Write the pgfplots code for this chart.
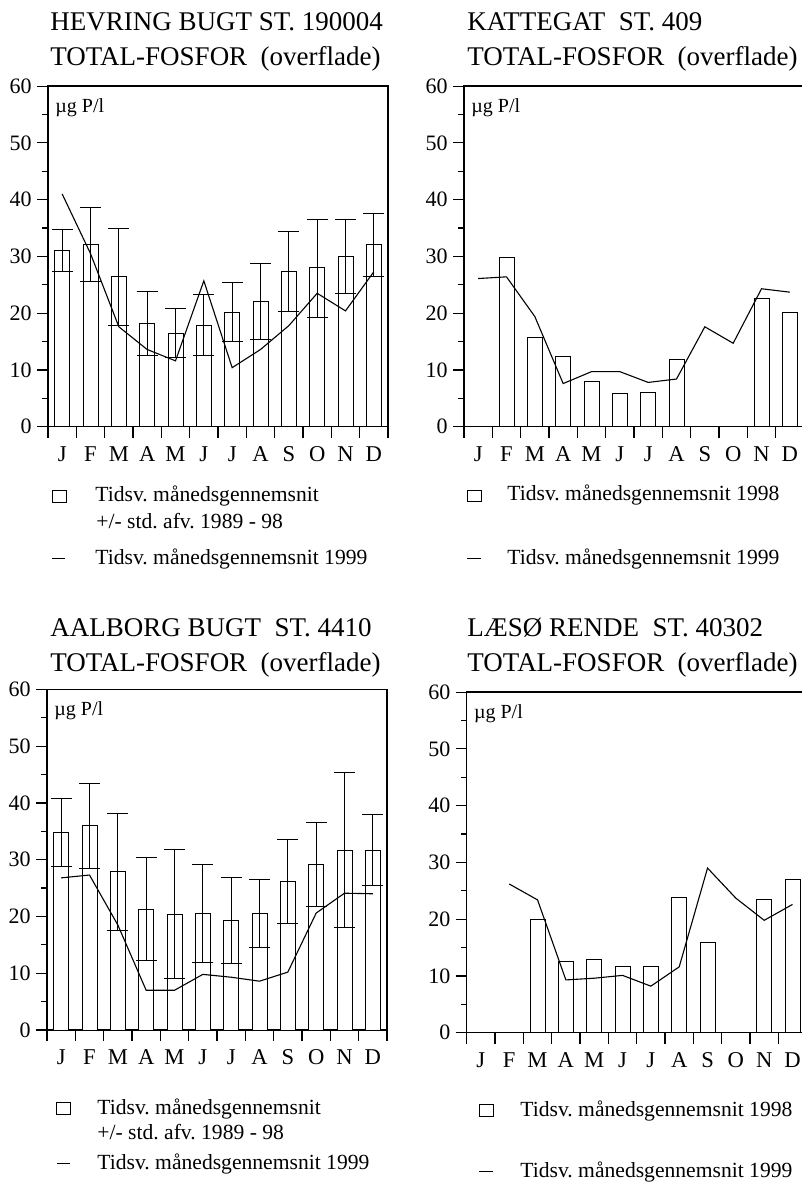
\documentclass[border=0pt]{standalone}
\usepackage{fontspec}
\setmainfont{Liberation Serif}
\usepackage{pgfplots}
\pgfplotsset{compat=1.18}
\usepackage{pgfplotstable}
\frenchspacing

\pgfplotstableread{
x y ep em
0.5 31.1 3.7 3.8
1.5 32.1 6.5 6.5
2.5 26.4 8.5 8.6
3.5 18.2 5.6 5.6
4.5 16.4 4.4 4.2
5.5 17.9 5.4 5.4
6.5 20.2 5.2 5.2
7.5 22.1 6.7 6.7
8.5 27.3 7.0 7.0
9.5 28.0 8.5 8.7
10.5 29.9 6.6 6.5
11.5 32.1 5.5 5.6
}\barsA
\pgfplotstableread{
x y
0.5 41.0
1.5 30.5
2.5 17.6
3.5 13.6
4.5 11.6
5.5 25.7
6.5 10.4
7.5 13.6
8.5 17.8
9.5 23.5
10.5 20.4
11.5 27.3
}\lineA
\pgfplotstableread{
x y
1.5 29.8
2.5 15.7
3.5 12.4
4.5 8.0
5.5 5.9
6.5 6.0
7.5 11.9
10.5 22.5
11.5 20.2
}\barsB
\pgfplotstableread{
x y
0.5 26.1
1.5 26.4
2.5 19.4
3.5 7.6
4.5 9.7
5.5 9.7
6.5 7.8
7.5 8.4
8.5 17.6
9.5 14.7
10.5 24.3
11.5 23.7
}\lineB
\pgfplotstableread{
x y ep em
0.5 34.8 5.9 6.0
1.5 36.0 7.4 7.5
2.5 27.9 10.2 10.3
3.5 21.3 9.1 9.1
4.5 20.4 11.4 11.4
5.5 20.6 8.6 8.7
6.5 19.3 7.5 7.6
7.5 20.5 6.0 6.0
8.5 26.1 7.4 7.4
9.5 29.1 7.4 7.3
10.5 31.7 13.7 13.7
11.5 31.7 6.2 6.2
}\barsC
\pgfplotstableread{
x y
0.5 26.8
1.5 27.3
2.5 18.5
3.5 7.0
4.5 7.0
5.5 9.8
6.5 9.3
7.5 8.6
8.5 10.2
9.5 20.6
10.5 24.1
11.5 24.0
}\lineC
\pgfplotstableread{
x y
2.5 19.9
3.5 12.6
4.5 12.9
5.5 11.7
6.5 11.6
7.5 23.9
8.5 15.9
10.5 23.4
11.5 27.0
}\barsD
\pgfplotstableread{
x y
1.5 26.2
2.5 23.4
3.5 9.3
4.5 9.6
5.5 10.1
6.5 8.2
7.5 11.6
8.5 29.0
9.5 23.7
10.5 19.8
11.5 22.6
}\lineD

\pgfplotsset{
  panel/.style={
    scale only axis, width=170pt, height=170.3pt,
    anchor=south west,
    xmin=0, xmax=12, ymin=0, ymax=60,
    axis line style={line width=0.7pt, black},
    xtick={0,1,...,12}, xticklabels={},
    extra x ticks={0.5,1.5,...,11.5},
    extra x tick labels={J,F,M,A,M,J,J,A,S,O,N,D},
    extra x tick style={major tick length=0pt,
      xticklabel style={font=\fontsize{11.3}{13}\selectfont, inner sep=0pt,
        text height=7.5pt, text depth=0pt, anchor=north, yshift=-9.5pt}},
    ytick={0,10,...,60}, minor y tick num=1,
    tick align=outside, tick pos=left,
    major tick length=5.5pt, minor tick length=2.8pt,
    tick style={line width=0.6pt, black},
    yticklabel style={font=\fontsize{11}{13}\selectfont, inner sep=0pt, xshift=-2.5pt},
    /pgf/number format/assume math mode=true,
    clip=false,
  },
  barst/.style={ybar, bar width=7.5pt, fill=white, draw=black, line width=0.5pt},
  errst/.style={ybar, bar width=7.5pt, fill=white, draw=black, line width=0.5pt,
    error bars/.cd, y dir=both, y explicit,
    error bar style={line width=0.5pt, black},
    error mark options={rotate=90, mark size=5.25pt, line width=0.5pt, black}},
  linest/.style={black, line width=0.55pt, sharp plot, no marks},
}
\newcommand{\unitlabel}{\node[anchor=base west, inner sep=0pt, font=\fontsize{10}{12}\selectfont, xshift=3.5pt, yshift=-13pt] at (rel axis cs:0,1) {µg P/l};}

\begin{document}
\begin{tikzpicture}[x=0.5pt, y=-0.5pt]
\useasboundingbox (0,0) rectangle (802,1182);

% Panel 1
\begin{axis}[panel, at={(24pt,-213.35pt)}]
\addplot[errst] table[x=x, y=y, y error plus=ep, y error minus=em] {\barsA};
\addplot[linest] table[x=x, y=y] {\lineA};
\unitlabel
\end{axis}

% Panel 2
\begin{axis}[panel, at={(232pt,-213.35pt)}]
\addplot[barst] table[x=x, y=y] {\barsB};
\addplot[linest] table[x=x, y=y] {\lineB};
\unitlabel
\end{axis}

% Panel 3
\begin{axis}[panel, at={(23.5pt,-515pt)}]
\addplot[errst] table[x=x, y=y, y error plus=ep, y error minus=em] {\barsC};
\addplot[linest] table[x=x, y=y] {\lineC};
\unitlabel
\end{axis}

% Panel 4
\begin{axis}[panel, at={(233.35pt,-516.35pt)}]
\addplot[barst] table[x=x, y=y] {\barsD};
\addplot[linest] table[x=x, y=y] {\lineD};
\unitlabel
\end{axis}

% Titles
\begin{scope}[every node/.style={anchor=base west, inner sep=0pt, font=\fontsize{13.5}{15}\selectfont}]
\node at (50,31) {HEVRING BUGT ST. 190004};
\node at (50,66) {TOTAL-FOSFOR\ \ (overflade)};
\node at (467,31) {KATTEGAT\ \ ST. 409};
\node at (467,66) {TOTAL-FOSFOR\ \ (overflade)};
\node at (50,636) {AALBORG BUGT\ \ ST. 4410};
\node at (50,671) {TOTAL-FOSFOR\ \ (overflade)};
\node at (467,636) {LÆSØ RENDE\ \ ST. 40302};
\node at (467,671) {TOTAL-FOSFOR\ \ (overflade)};
\end{scope}

% Legends
\begin{scope}[every node/.style={anchor=base west, inner sep=0pt, font=\fontsize{10.8}{13}\selectfont}]
\draw[line width=0.5pt] (52,490) rectangle (66,502);
\node at (95,501) {Tidsv. månedsgennemsnit};
\node at (96,528) {+/- std. afv. 1989 - 98};
\draw[line width=0.5pt] (52,558) -- (65,558);
\node at (95,564) {Tidsv. månedsgennemsnit 1999};

\draw[line width=0.5pt] (467,490) rectangle (481,501);
\node at (507,500) {Tidsv. månedsgennemsnit 1998};
\draw[line width=0.5pt] (467,558) -- (481,558);
\node at (507,564) {Tidsv. månedsgennemsnit 1999};

\draw[line width=0.5pt] (56,1102) rectangle (70,1114);
\node at (97,1114) {Tidsv. månedsgennemsnit};
\node at (97,1139) {+/- std. afv. 1989 - 98};
\draw[line width=0.5pt] (57,1163) -- (70,1163);
\node at (97,1169) {Tidsv. månedsgennemsnit 1999};

\draw[line width=0.5pt] (479,1104) rectangle (493,1116);
\node at (520,1116) {Tidsv. månedsgennemsnit 1998};
\draw[line width=0.5pt] (479,1171) -- (493,1171);
\node at (520,1177) {Tidsv. månedsgennemsnit 1999};
\end{scope}
\end{tikzpicture}
\end{document}
